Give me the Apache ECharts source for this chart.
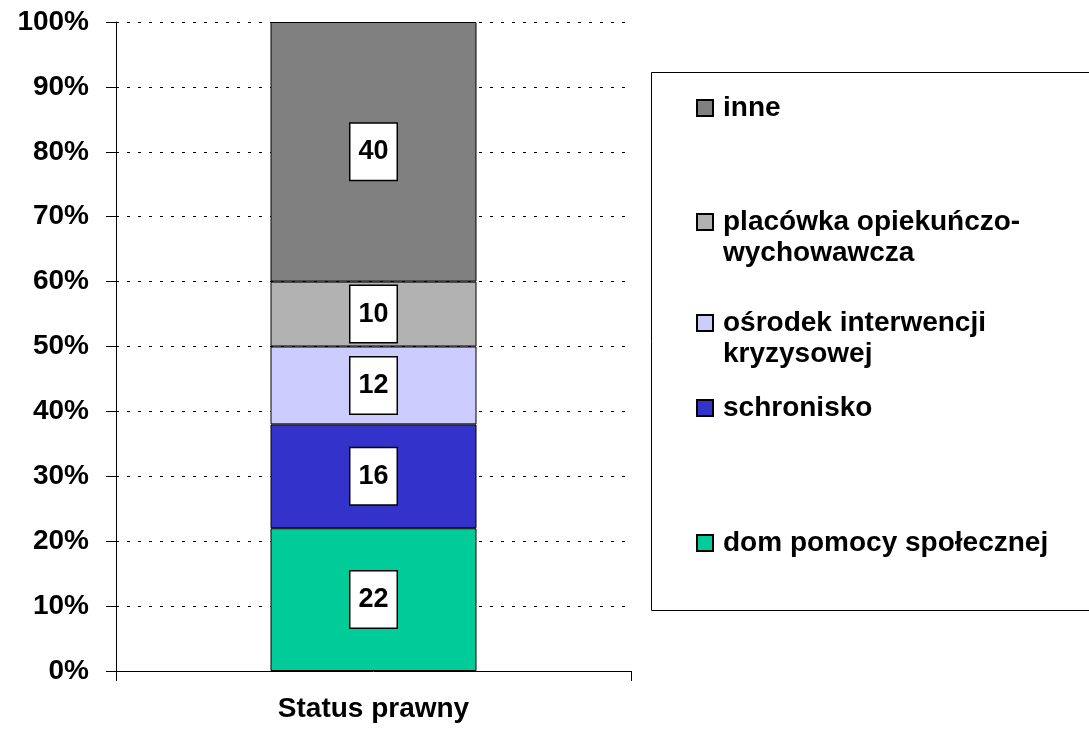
<!DOCTYPE html>
<html>
<head>
<meta charset="utf-8">
<script src="https://cdn.jsdelivr.net/npm/echarts@6/dist/echarts.min.js"></script>
<style>
  html, body { margin: 0; padding: 0; background: #fff; }
  #main { width: 1089px; height: 733px; }
</style>
</head>
<body>
<div id="main"></div>
<script>
// data (bottom to top of the stack)
const categories = ['Status prawny'];
const seriesNames = ['dom pomocy społecznej', 'schronisko', 'ośrodek interwencji kryzysowej', 'placówka opiekuńczo-wychowawcza', 'inne'];
const domValues = [22];
const schroniskoValues = [16];
const osrodekValues = [12];
const placowkaValues = [10];
const inneValues = [40];
const yTicks = [0, 10, 20, 30, 40, 50, 60, 70, 80, 90, 100];

// legend text as shown (line breaks as in the picture)
// the leading blank line keeps the icon level with the first line
const legendText = {
    'inne': 'inne',
    'placówka opiekuńczo-wychowawcza': ' \nplacówka opiekuńczo-\nwychowawcza',
    'ośrodek interwencji kryzysowej': ' \nośrodek interwencji\nkryzysowej',
    'schronisko': 'schronisko',
    'dom pomocy społecznej': 'dom pomocy społecznej',
};

const colors = ['#00CC99', '#3333CC', '#CCCCFF', '#B2B2B2', '#808080'];
const font = 'Liberation Sans, Arial, sans-serif';
const valuesList = [domValues, schroniskoValues, osrodekValues, placowkaValues, inneValues];

const chart = echarts.init(document.getElementById('main'));

const series = seriesNames.map((name, i) => ({
    name: name,
    type: 'bar',
    stack: 'total',
    barWidth: '40%',
    data: valuesList[i],
    itemStyle: {color: colors[i], borderColor: '#000', borderWidth: 1},
    label: {
        show: true,
        position: 'inside',
        color: '#000',
        fontFamily: font,
        fontWeight: 'bold',
        fontSize: 27,
        backgroundColor: '#fff',
        borderColor: '#000',
        borderWidth: 1.5,
        padding: [15, 8, 14, 8],
    },
}));

// legend entries: name and vertical centre of the first text line
const legendRows = [
    ['inne', 108],
    ['placówka opiekuńczo-wychowawcza', 222],
    ['ośrodek interwencji kryzysowej', 323],
    ['schronisko', 408],
    ['dom pomocy społecznej', 543],
];
const lineH = 31;
const legends = legendRows.map(([name, cy]) => {
    const lines = legendText[name].split('\n').length;
    return {
        orient: 'vertical',
        left: 696,
        top: cy - (lines * lineH) / 2,
        padding: 0,
        icon: 'rect',
        itemWidth: 16,
        itemHeight: 16,
        itemGap: 0,
        selectedMode: false,
        data: [name],
        formatter: () => legendText[name],
        textStyle: {
            color: '#000',
            fontFamily: font,
            fontWeight: 'bold',
            fontSize: 28,
            lineHeight: lineH,
            padding: [0, 0, 0, 5],
        },
    };
});

const option = {
    animation: false,
    backgroundColor: '#fff',
    grid: {left: 116, right: 458, top: 22, bottom: 62},
    legend: legends,
    graphic: [{
        type: 'rect',
        shape: {x: 651.5, y: 72.5, width: 440, height: 538},
        style: {fill: 'none', stroke: '#000', lineWidth: 1},
        z: -1,
    }],
    xAxis: {
        type: 'category',
        data: categories,
        boundaryGap: true,
        axisLine: {lineStyle: {color: '#000', width: 1}},
        axisTick: {show: true, length: 10, lineStyle: {color: '#000'}},
        axisLabel: {
            color: '#000',
            fontFamily: font,
            fontWeight: 'bold',
            fontSize: 28,
            margin: 24,
        },
    },
    yAxis: {
        type: 'value',
        min: yTicks[0],
        max: yTicks[yTicks.length - 1],
        interval: 10,
        axisLine: {show: true, lineStyle: {color: '#000', width: 1}},
        axisTick: {show: true, length: 10, lineStyle: {color: '#000'}},
        axisLabel: {
            color: '#000',
            fontFamily: font,
            fontWeight: 'bold',
            fontSize: 28,
            margin: 27,
            formatter: '{value}%',
        },
        splitLine: {show: true, lineStyle: {color: '#000', width: 1, type: [3, 8]}},
    },
    series: series,
};

chart.setOption(option);
</script>
</body>
</html>
